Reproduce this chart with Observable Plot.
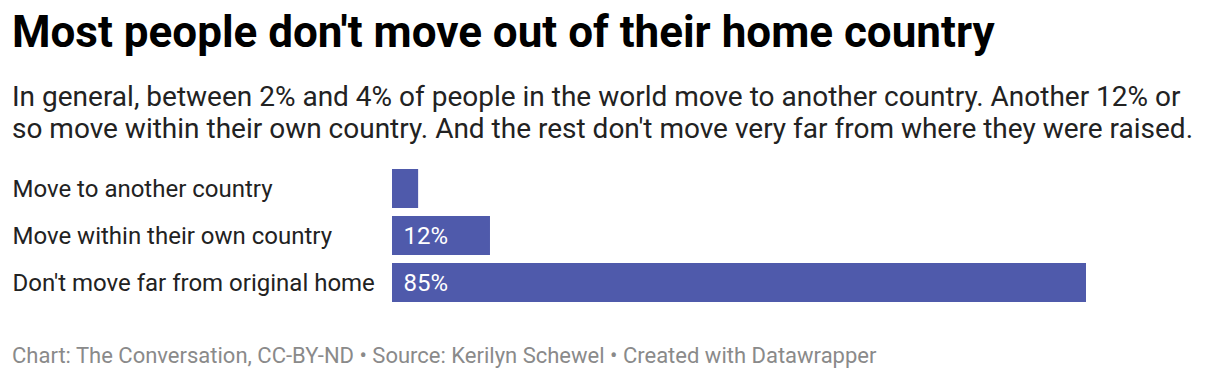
<!DOCTYPE html>
<html>
<head>
<meta charset="utf-8">
<script src="https://cdn.jsdelivr.net/npm/d3@7"></script>
<script src="https://cdn.jsdelivr.net/npm/@observablehq/plot@0.6"></script>
<style>
  html, body { margin: 0; padding: 0; background: #fff; }
  body { width: 1220px; height: 380px; position: relative; overflow: hidden; font-family: Roboto, sans-serif; }
  #title { position: absolute; left: 12px; top: 10px; font-size: 44px; line-height: 44px; font-weight: 700; color: #000; white-space: nowrap; }
  #subtitle { position: absolute; left: 12px; top: 81px; width: 1196px; font-size: 28px; line-height: 32px; color: #222; }
  #chart { position: absolute; left: 0; top: 160px; }
  #footer { position: absolute; left: 12px; top: 345px; font-size: 22px; line-height: 22px; color: #8a8a8a; white-space: nowrap; }
</style>
</head>
<body>
<div id="title">Most people don't move out of their home country</div>
<div id="subtitle">In general, between 2% and 4% of people in the world move to another country. Another 12% or so move within their own country. And the rest don't move very far from where they were raised.</div>
<div id="chart"></div>
<div id="footer">Chart: The Conversation, CC-BY-ND • Source: Kerilyn Schewel • Created with Datawrapper</div>
<script>
const categories = ["Move to another country", "Move within their own country", "Don't move far from original home"];
const values = [3.2, 12, 85];
const valueLabels = ["", "12%", "85%"];

const data = categories.map((c, i) => ({category: c, value: values[i], label: valueLabels[i]}));

const chart = Plot.plot({
  width: 1220,
  height: 152,
  marginLeft: 392,
  marginRight: 134,
  marginTop: 0,
  marginBottom: 0,
  style: {fontFamily: "Roboto, sans-serif", background: "transparent"},
  x: {domain: [0, 85], axis: null},
  y: {domain: categories, padding: 0.1667, axis: null},
  marks: [
    Plot.barX(data, {y: "category", x: "value", fill: "#4f5aab"}),
    Plot.text(data, {y: "category", text: "category", frameAnchor: "left", textAnchor: "start", dx: -380, fontSize: 24, fill: "#222"}),
    Plot.text(data, {y: "category", text: "label", frameAnchor: "left", textAnchor: "start", dx: 11, fontSize: 24, fill: "#fff"})
  ]
});
document.getElementById("chart").appendChild(chart);
</script>
</body>
</html>
